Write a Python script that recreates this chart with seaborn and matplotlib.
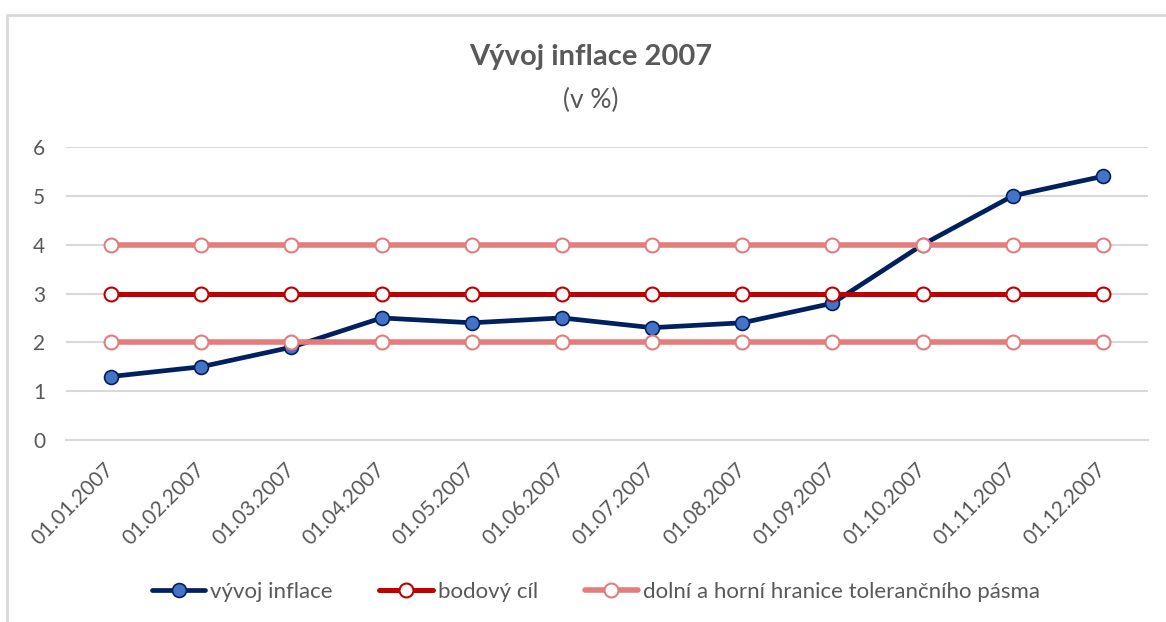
import numpy as np
import pandas as pd
import seaborn as sns
import matplotlib.pyplot as plt
from matplotlib.lines import Line2D
from matplotlib.ticker import FixedLocator

# data
months = ['01.01.2007', '01.02.2007', '01.03.2007', '01.04.2007', '01.05.2007', '01.06.2007',
          '01.07.2007', '01.08.2007', '01.09.2007', '01.10.2007', '01.11.2007', '01.12.2007']
inflation = [1.3, 1.5, 1.9, 2.5, 2.4, 2.5, 2.3, 2.4, 2.8, 4.0, 5.0, 5.4]
target = [3, 3, 3, 3, 3, 3, 3, 3, 3, 3, 3, 3]
band_low = [2, 2, 2, 2, 2, 2, 2, 2, 2, 2, 2, 2]
band_high = [4, 4, 4, 4, 4, 4, 4, 4, 4, 4, 4, 4]
y_ticks = [0, 1, 2, 3, 4, 5, 6]

sns.set_theme(style='white')
plt.rcParams['font.family'] = ['Lato', 'DejaVu Sans']

grey = '#595959'
light = '#D9D9D9'
navy = '#002060'
red = '#C00000'
pink = '#E47C7C'

df = pd.DataFrame({'month': months, 'inflation': inflation, 'target': target,
                   'low': band_low, 'high': band_high})

fig = plt.figure(figsize=(11.66, 6.22), dpi=100)
ax = fig.add_axes([66 / 1166, 1 - 440 / 622, (1148 - 66) / 1166, (440 - 147) / 622])

sns.lineplot(data=df, x='month', y='inflation', ax=ax, color=navy, linewidth=3.4,
             marker='o', markersize=10, markerfacecolor='#4472C4', markeredgecolor=navy,
             markeredgewidth=1.2, label='vývoj inflace', zorder=3, sort=False)
sns.lineplot(data=df, x='month', y='target', ax=ax, color=red, linewidth=3.6,
             marker='o', markersize=10, markerfacecolor='white', markeredgecolor=red,
             markeredgewidth=1.5, label='bodový cíl', zorder=4, sort=False)
sns.lineplot(data=df, x='month', y='low', ax=ax, color=pink, linewidth=4,
             marker='o', markersize=10, markerfacecolor='white', markeredgecolor=pink,
             markeredgewidth=1.5, label='dolní a horní hranice tolerančního pásma', zorder=5, sort=False)
sns.lineplot(data=df, x='month', y='high', ax=ax, color=pink, linewidth=4,
             marker='o', markersize=10, markerfacecolor='white', markeredgecolor=pink,
             markeredgewidth=1.5, label='_nolegend_', zorder=5, sort=False)

ax.set_xlim(-0.5, len(months) - 0.5)
ax.set_ylim(0, 6)
ax.set_yticks(y_ticks)
ax.set_xlabel('')
ax.set_ylabel('')

ax.yaxis.grid(True, color=light, linewidth=1.5)
ax.set_axisbelow(True)
for s in ['top', 'right', 'left']:
    ax.spines[s].set_visible(False)
ax.spines['bottom'].set_color(light)
ax.spines['bottom'].set_linewidth(1.5)
ax.spines['bottom'].set_zorder(1)

ax.tick_params(axis='y', length=0, pad=15, labelsize=15, labelcolor=grey)
ax.tick_params(axis='x', which='major', length=0, pad=19, labelsize=15, labelcolor=grey)
ax.xaxis.set_minor_locator(FixedLocator(np.arange(-0.5, len(months), 1.0)))
ax.tick_params(axis='x', which='minor', length=5, width=1.5, color=light, direction='out')
for lab in ax.get_xticklabels():
    lab.set_rotation(45)
    lab.set_ha('right')
    lab.set_va('center')
    lab.set_rotation_mode('anchor')

fig.text(591 / 1166, 1 - 57 / 622, 'Vývoj inflace 2007', ha='center', va='center',
         fontsize=21, fontweight='bold', color=grey)
fig.text(591 / 1166, 1 - 100 / 622, '(v %)', ha='center', va='center',
         fontsize=19, color=grey)

ax.get_legend().remove()
handles, labels = ax.get_legend_handles_labels()
fig.legend(handles, labels, loc='center', bbox_to_anchor=(596 / 1166, 1 - 592 / 622),
           ncol=3, frameon=False, fontsize=16, labelcolor=grey, handlelength=2.4,
           handletextpad=0.23, columnspacing=2.1, numpoints=1)

# chart frame (left and top edges visible)
fig.add_artist(Line2D([7 / 1166, 7 / 1166], [0, 1 - 15 / 622], color=light, linewidth=2))
fig.add_artist(Line2D([7 / 1166, 1], [1 - 15 / 622, 1 - 15 / 622], color=light, linewidth=2))

fig.savefig('out.png', dpi=100)
